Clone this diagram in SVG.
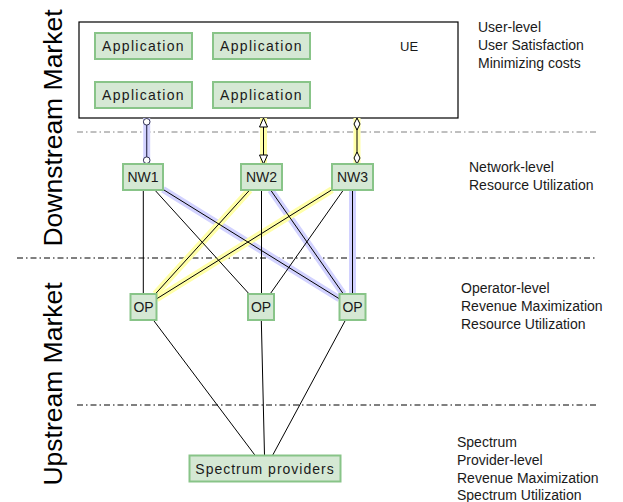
<svg xmlns="http://www.w3.org/2000/svg" width="623" height="502" viewBox="0 0 623 502">
<style>
.node rect{fill:#d5e8d4;stroke:#88c488;stroke-width:2}
.lbl{font-family:"Liberation Sans",Arial,sans-serif;font-size:14px;fill:#1a1a1a}
.ctr{text-anchor:middle}
.app{letter-spacing:1.3px}
.side{font-family:"Liberation Sans",Arial,sans-serif;font-size:14px;fill:#1a1a1a}
.market{font-family:"Liberation Sans",Arial,sans-serif;font-size:26.5px;fill:#000;text-anchor:middle}
.ln{stroke:#000;stroke-width:1;fill:none}
.hb{stroke:#d2d2ff;stroke-width:7;fill:none}
.hy{stroke:#ffffa8;stroke-width:7;fill:none}
.sep{fill:none;stroke-width:1;stroke-dasharray:6 3 1.5 3}
</style>
<defs>
<marker id="mCircle" viewBox="-10 -5 10 10" refX="0" refY="0" markerWidth="10" markerHeight="10" markerUnits="userSpaceOnUse" orient="auto-start-reverse" overflow="visible">
<circle cx="-3.8" cy="0" r="3.3" fill="#fff" stroke="#333355" stroke-width="1"/>
</marker>
<marker id="mTri" viewBox="-10 -5 10 10" refX="0" refY="0" markerWidth="10" markerHeight="10" markerUnits="userSpaceOnUse" orient="auto-start-reverse" overflow="visible">
<path d="M0,0 L-9,-4 L-9,4 Z" fill="#fff" stroke="#000" stroke-width="1"/>
</marker>
<marker id="mDia" viewBox="-10 -5 10 10" refX="0" refY="0" markerWidth="10" markerHeight="10" markerUnits="userSpaceOnUse" orient="auto-start-reverse" overflow="visible">
<path d="M0,0 L-6,-3 L-12,0 L-6,3 Z" fill="#fff" stroke="#000" stroke-width="1"/>
</marker>
</defs>
<rect width="623" height="502" fill="#fff"/>

<g id="separators">
<line class="sep" x1="77" y1="132" x2="597" y2="132" stroke="#808080" stroke-width="1.5"/>
<line class="sep" x1="17" y1="258" x2="597" y2="258" stroke="#000"/>
<line class="sep" x1="77" y1="405" x2="597" y2="405" stroke="#000"/>
</g>

<g id="market-labels">
<text class="market" transform="translate(62,128) rotate(-90)">Downstream Market</text>
<text class="market" transform="translate(62,384) rotate(-90)">Upstream Market</text>
</g>

<g id="UE">
<rect x="79" y="22" width="379" height="96" fill="#fff" stroke="#000" stroke-width="1.2"/>
<text class="lbl" x="400" y="51" style="font-size:13px">UE</text>
</g>

<g id="connectors">
<line class="hb" x1="146.7" y1="118" x2="146.7" y2="164"/>
<line class="hy" x1="263.5" y1="118" x2="263.5" y2="164"/>
<line class="hy" x1="357" y1="118" x2="357" y2="164"/>
<line class="hb" x1="163" y1="189.4" x2="339.5" y2="298.9"/>
<line class="hb" x1="270.6" y1="190" x2="343.4" y2="294"/>
<line class="hb" x1="352.5" y1="190" x2="352.5" y2="294"/>
<line class="hy" x1="249.7" y1="190" x2="155.3" y2="294"/>
<line class="hy" x1="332" y1="189.7" x2="156.5" y2="298.9"/>
<line x1="146.7" y1="118" x2="146.7" y2="164" stroke="#333355" stroke-width="1.2" marker-start="url(#mCircle)" marker-end="url(#mCircle)"/>
<line x1="263.5" y1="118" x2="263.5" y2="164" stroke="#000" stroke-width="1" marker-start="url(#mTri)" marker-end="url(#mTri)"/>
<line x1="357" y1="118" x2="357" y2="164" stroke="#000" stroke-width="1" marker-start="url(#mDia)" marker-end="url(#mDia)"/>
<line class="ln" x1="143.3" y1="190" x2="143.3" y2="294"/>
<line class="ln" x1="154.8" y1="190" x2="249.2" y2="294"/>
<line class="ln" x1="163" y1="189.4" x2="339.5" y2="298.9"/>
<line class="ln" x1="249.7" y1="190" x2="155.3" y2="294"/>
<line class="ln" x1="261.5" y1="190" x2="261.5" y2="294"/>
<line class="ln" x1="270.6" y1="190" x2="343.4" y2="294"/>
<line class="ln" x1="332" y1="189.7" x2="156.5" y2="298.9"/>
<line class="ln" x1="343.4" y1="190" x2="270.1" y2="294"/>
<line class="ln" x1="352.5" y1="190" x2="352.5" y2="294"/>
<line class="ln" x1="153.3" y1="320" x2="255.2" y2="455.5"/>
<line class="ln" x1="261.3" y1="320" x2="264.5" y2="455.5"/>
<line class="ln" x1="345.5" y1="320" x2="272.5" y2="455.5"/>
</g>

<g id="app1" class="node"><rect x="95" y="33" width="97" height="26"/><text class="lbl ctr app" x="143.5" y="51">Application</text></g>
<g id="app2" class="node"><rect x="213" y="33" width="97" height="26"/><text class="lbl ctr app" x="261.5" y="51">Application</text></g>
<g id="app3" class="node"><rect x="95" y="82" width="97" height="26"/><text class="lbl ctr app" x="143.5" y="100">Application</text></g>
<g id="app4" class="node"><rect x="213" y="82" width="97" height="26"/><text class="lbl ctr app" x="261.5" y="100">Application</text></g>

<g id="NW1" class="node"><rect x="123" y="164" width="40" height="26"/><text class="lbl ctr" x="143" y="182">NW1</text></g>
<g id="NW2" class="node"><rect x="241" y="164" width="41" height="26"/><text class="lbl ctr" x="261.5" y="182">NW2</text></g>
<g id="NW3" class="node"><rect x="332" y="164" width="41" height="26"/><text class="lbl ctr" x="352.5" y="182">NW3</text></g>

<g id="OP1" class="node"><rect x="130.5" y="294" width="26" height="26"/><text class="lbl ctr" x="143.5" y="312">OP</text></g>
<g id="OP2" class="node"><rect x="248" y="294" width="26" height="26"/><text class="lbl ctr" x="261" y="312">OP</text></g>
<g id="OP3" class="node"><rect x="339.5" y="294" width="26" height="26"/><text class="lbl ctr" x="352.5" y="312">OP</text></g>

<g id="spectrum" class="node"><rect x="189.5" y="455.5" width="151" height="26"/><text class="lbl ctr" x="265" y="473.5" style="letter-spacing:1px">Spectrum providers</text></g>

<g id="side-labels">
<text class="side" x="478" y="32">User-level</text>
<text class="side" x="478" y="50">User Satisfaction</text>
<text class="side" x="478" y="67.5">Minimizing costs</text>
<text class="side" x="469" y="172">Network-level</text>
<text class="side" x="469" y="190">Resource Utilization</text>
<text class="side" x="461" y="293">Operator-level</text>
<text class="side" x="461" y="311">Revenue Maximization</text>
<text class="side" x="461" y="328.5">Resource Utilization</text>
<text class="side" x="457" y="447">Spectrum</text>
<text class="side" x="457" y="465">Provider-level</text>
<text class="side" x="457" y="482.5">Revenue Maximization</text>
<text class="side" x="457" y="500">Spectrum Utilization</text>
</g>
</svg>
